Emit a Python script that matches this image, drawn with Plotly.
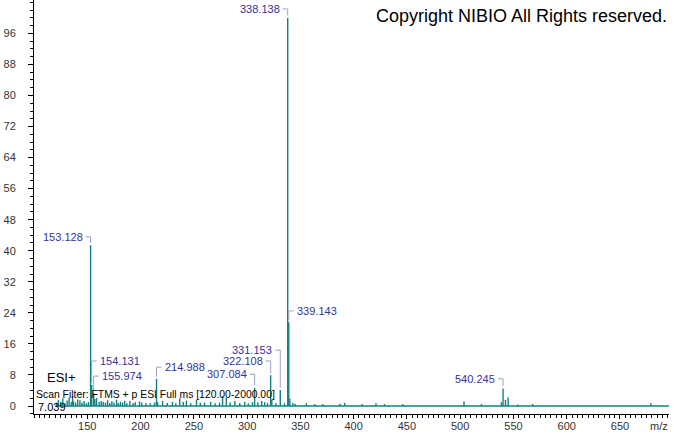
import plotly.graph_objects as go

# ---------------- data ----------------
mz = [121.1, 122.9, 125.1, 127.0, 129.1, 131.1, 133.0, 135.1, 136.2, 137.1, 139.1, 141.0,
      143.1, 145.1, 147.1, 149.1, 151.1, 153.128, 154.131, 155.974, 157.1, 158.7, 161.1,
      163.1, 165.0, 167.1, 169.1, 171.1, 173.1, 175.1, 177.5, 179.1, 181.1, 183.1, 185.1,
      187.1, 190.0, 193.1, 195.1, 199.0, 201.1, 205.1, 209.1, 213.1, 214.988, 216.0,
      220.7, 225.1, 230.0, 233.1, 236.8, 240.1, 243.0, 247.1, 252.5, 256.1, 260.1, 265.8,
      270.1, 274.1, 277.0, 280.5, 284.1, 288.5, 293.1, 297.8, 301.1, 305.0, 307.084, 310.1,
      313.7, 316.5, 319.1, 322.108, 323.2, 327.0, 331.153, 335.1, 338.138, 339.143, 340.1,
      342.9, 345.1, 355.6, 363.5, 371.0, 387.0, 391.6, 408.0, 421.0, 429.0, 446.0, 503.6,
      520.0, 538.7, 540.245, 542.5, 545.0, 554.0, 568.0, 679.0]
intensity = [0.9, 1.6, 1.1, 2.0, 0.8, 1.4, 2.2, 1.0, 2.6, 1.2, 0.9, 1.7,
             1.5, 0.9, 1.3, 0.7, 1.0, 41.4, 5.4, 3.3, 1.8, 2.1, 1.0,
             1.3, 1.1, 0.9, 1.5, 0.8, 1.2, 0.9, 1.6, 0.8, 1.1, 0.9, 1.3,
             0.7, 1.3, 0.8, 1.0, 1.2, 0.9, 0.8, 0.7, 0.9, 7.0, 1.0,
             1.3, 0.8, 1.1, 0.7, 2.0, 1.0, 1.4, 0.7, 1.6, 0.8, 0.9, 1.1,
             0.7, 0.9, 2.6, 2.1, 0.9, 1.3, 0.8, 1.1, 0.7, 1.0, 4.7, 0.9,
             1.3, 1.0, 0.8, 7.9, 1.6, 0.8, 4.1, 0.7, 100.0, 21.6, 1.9,
             0.8, 0.6, 0.7, 0.5, 0.5, 0.6, 0.8, 0.5, 0.7, 0.5, 0.5, 1.2,
             0.5, 1.0, 4.5, 1.6, 2.2, 0.4, 0.5, 0.7]

scan_range = [120.0, 2000.0]

label_mz = [153.128, 154.131, 155.974, 214.988, 307.084, 322.108, 331.153, 338.138, 339.143, 540.245]
label_side = ["L", "R", "R", "R", "L", "L", "L", "L", "R", "L"]
label_level = [43.6, 11.6, 7.7, 10.0, 8.2, 11.6, 14.4, 102.3, 24.5, 7.0]

y_ticks = list(range(0, 97, 8))
x_ticks = list(range(150, 651, 50))

# ---------------- style ----------------
SPEC = "#118080"
LBL = "#3333a0"
CONN = "#a0a0c8"
FONT = "Liberation Sans, Arial, sans-serif"

fig = go.Figure()

# baseline
fig.add_trace(go.Scatter(x=scan_range, y=[0, 0], mode="lines",
                         line=dict(color=SPEC, width=1.6), hoverinfo="skip", showlegend=False))

# sticks
sx, sy = [], []
for m, h in zip(mz, intensity):
    sx += [m, m, None]
    sy += [0, h, None]
fig.add_trace(go.Scatter(x=sx, y=sy, mode="lines", line=dict(color=SPEC, width=1.4),
                         hoverinfo="skip", showlegend=False))

# label connectors + texts
ARM = 4.7
cx, cy = [], []
for m, side, lev in zip(label_mz, label_side, label_level):
    h = intensity[mz.index(m)]
    end = m - ARM if side == "L" else m + ARM
    cx += [end, m, m, None]
    cy += [lev, lev, h + 0.6, None]
    fig.add_annotation(x=end, y=lev, text=f"{m:.3f}", showarrow=False,
                       xanchor="right" if side == "L" else "left", yanchor="middle",
                       xshift=-1 if side == "L" else 1,
                       font=dict(family=FONT, size=11, color=LBL))
fig.add_trace(go.Scatter(x=cx, y=cy, mode="lines", line=dict(color=CONN, width=1),
                         hoverinfo="skip", showlegend=False))

# texts
fig.add_annotation(xref="paper", yref="paper", x=1.0, y=1.0, xanchor="right", yanchor="top",
                   yshift=-4, text="Copyright NIBIO All Rights reserved.", showarrow=False,
                   font=dict(family=FONT, size=18, color="black"))
fig.add_annotation(xref="paper", yref="y", x=0.018, y=7.3, xanchor="left", yanchor="middle",
                   text="ESI+", showarrow=False, font=dict(family=FONT, size=13, color="black"))
fig.add_annotation(xref="paper", yref="y", x=0.0, y=2.9, xanchor="left", yanchor="middle",
                   text="Scan Filter: FTMS + p ESI Full ms [120.00-2000.00]", showarrow=False,
                   font=dict(family=FONT, size=10.4, color="black"))
fig.add_annotation(xref="paper", yref="y", x=0.003, y=-0.3, xanchor="left", yanchor="middle",
                   text="7.039", showarrow=False, font=dict(family=FONT, size=11, color="black"))
fig.add_annotation(xref="paper", yref="paper", x=0.985, y=0, xanchor="center", yanchor="top",
                   yshift=-4, text="m/z", showarrow=False,
                   font=dict(family=FONT, size=11, color="#333333"))

fig.update_layout(
    width=674, height=434,
    margin=dict(l=34, r=5, t=0, b=20, autoexpand=False),
    paper_bgcolor="white", plot_bgcolor="white",
    showlegend=False,
    xaxis=dict(range=[100, 696], showgrid=False, zeroline=False, automargin=False,
               showline=True, linecolor="black", linewidth=1,
               tickvals=x_ticks, ticks="outside", ticklen=4, tickcolor="black",
               ticklabelstandoff=-2,
               tickfont=dict(family=FONT, size=11, color="#333333"),
               minor=dict(dtick=5, ticks="outside", ticklen=3, tickcolor="black", showgrid=False)),
    yaxis=dict(range=[-2.06, 104.6], showgrid=False, zeroline=False, automargin=False,
               showline=True, linecolor="black", linewidth=1,
               tickvals=y_ticks, ticks="outside", ticklen=5, tickcolor="black",
               ticklabelstandoff=10,
               tickfont=dict(family=FONT, size=11, color="#333333"),
               minor=dict(dtick=2, tick0=0, ticks="outside", ticklen=3, tickcolor="black", showgrid=False)),
)

fig.write_html("out.html", config=dict(displayModeBar=False, staticPlot=True),
               post_script="document.body.style.margin='0';")
